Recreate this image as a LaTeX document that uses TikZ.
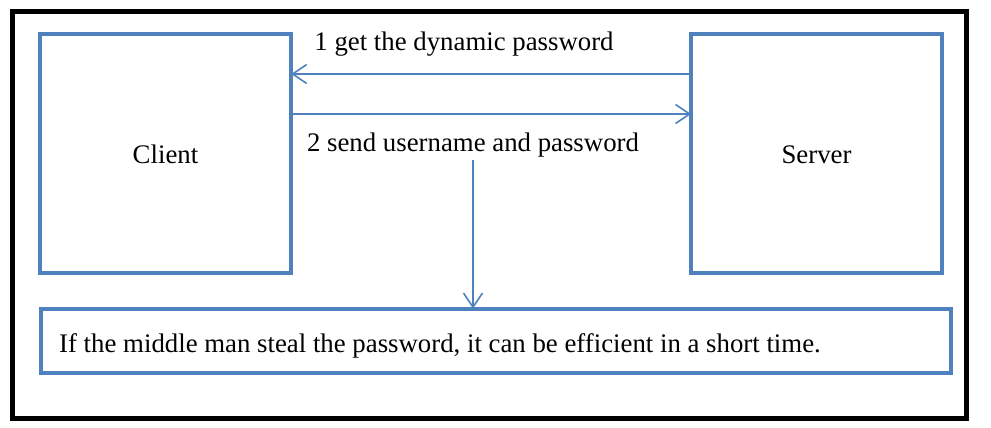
\documentclass[tikz,border=0pt]{standalone}
\usepackage{fontspec}
\setmainfont{Liberation Serif}
\usetikzlibrary{arrows.meta}
\definecolor{boxblue}{RGB}{79,129,189}
\begin{document}
\begin{tikzpicture}[x=1pt,y=-1pt,
  font=\fontsize{26.8}{32}\selectfont,
  box/.style={draw=boxblue,line width=4pt,minimum width=#1,inner sep=0pt,outer sep=0pt},
  arr/.style={draw=boxblue,line width=2pt,-{Straight Barb[length=14pt,width=19pt,line width=1.6pt]}},
  lbl/.style={inner sep=0pt,anchor=base}]
\useasboundingbox (0,0) rectangle (991,428);
\node[draw=black,line width=5pt,minimum width=954pt,minimum height=406.5pt,inner sep=0pt,outer sep=0pt] (frame) at (489.5,214.75) {};
\node[box=251pt,minimum height=239pt] (client) at (165.75,153.5) {};
\node[box=251pt,minimum height=239pt] (server) at (816.5,153.5) {};
\node[lbl] at (165.5,163) {Client};
\node[lbl] at (816.5,163) {Server};
\node[box=910pt,minimum height=64.5pt] (msg) at (495.5,340.75) {};
\node[lbl,anchor=base west] (msgtxt) at (59,352) {If the middle man steal the password, it can be efficient in a short time.};
\node[lbl] (lab1) at (464,51) {1 get the dynamic password};
\node[lbl] (lab2) at (473,151) {2 send username and password};
\coordinate (vtop) at (473,160);
\draw[arr] ([yshift=79.5pt]server.west) -- ([yshift=79.5pt]client.east);
\draw[arr] ([yshift=39.5pt]client.east) -- ([yshift=39.5pt]server.west);
\draw[arr] (vtop) -- (vtop |- msg.north);
\end{tikzpicture}
\end{document}
